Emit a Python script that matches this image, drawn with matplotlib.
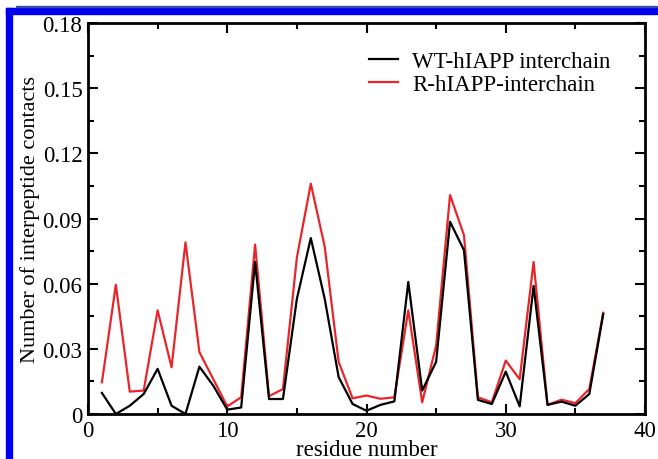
import matplotlib
matplotlib.use('Agg')
import matplotlib.pyplot as plt
from matplotlib.patches import Rectangle
from matplotlib.ticker import MultipleLocator, FuncFormatter

residues = list(range(1, 38))
wt_interchain = [0.0097, 0.0, 0.0038, 0.0092, 0.0208, 0.0038, 0.0, 0.0218, 0.013, 0.002,
                 0.003, 0.070, 0.0069, 0.0069, 0.053, 0.081, 0.053, 0.017, 0.0046, 0.0015,
                 0.0042, 0.0058, 0.0608, 0.0108, 0.024, 0.0885, 0.0754, 0.0065, 0.0046, 0.0195,
                 0.0035, 0.059, 0.0042, 0.0057, 0.0038, 0.0092, 0.046]
r_interchain = [0.0146, 0.0595, 0.0103, 0.0108, 0.0477, 0.0215, 0.079, 0.0285, 0.016, 0.0035,
                0.0077, 0.078, 0.0082, 0.0115, 0.072, 0.106, 0.077, 0.024, 0.0072, 0.0085,
                0.007, 0.0077, 0.0477, 0.0054, 0.0315, 0.1008, 0.0823, 0.0077, 0.0054, 0.0246,
                0.016, 0.070, 0.0042, 0.0066, 0.005, 0.0115, 0.0466]

plt.rcParams['font.family'] = ['Liberation Serif', 'DejaVu Serif']

fig = plt.figure(figsize=(6.58, 4.6), dpi=100)
ax = fig.add_axes([88 / 658, 1 - 415 / 460, (645 - 88) / 658, (415 - 24) / 460])

# blue frame from the source page
fig.patches.append(Rectangle((6 / 658, 0), 6 / 658, 1 - 9 / 460, transform=fig.transFigure,
                             color='#0000ee', zorder=0))
fig.patches.append(Rectangle((6 / 658, 1 - 15 / 460), 651 / 658, 6 / 460, transform=fig.transFigure,
                             color='#0000ee', zorder=0))
fig.patches.append(Rectangle((16 / 658, 1 - 8 / 460), 641 / 658, 1.5 / 460, transform=fig.transFigure,
                             color='#3050a0', zorder=0))

ax.plot(residues, wt_interchain, color='black', lw=1.6, label='WT-hIAPP interchain', zorder=3)
ax.plot(residues, r_interchain, color='#e8262a', lw=1.6, label='R-hIAPP-interchain', zorder=2)

ax.set_xlim(0, 40)
ax.set_ylim(0, 0.18)
ax.xaxis.set_major_locator(MultipleLocator(10))
ax.xaxis.set_minor_locator(MultipleLocator(5))
ax.yaxis.set_major_locator(MultipleLocator(0.03))
ax.yaxis.set_minor_locator(MultipleLocator(0.015))
ax.yaxis.set_major_formatter(FuncFormatter(lambda v, p: '0' if abs(v) < 1e-9 else f'{v:.2f}'))
ax.tick_params(which='both', direction='in', top=True, right=True, width=1.5, labelsize=16.5)
ax.tick_params(which='major', length=7)
ax.tick_params(which='minor', length=4)
ax.tick_params(axis='y', which='major', pad=4)
ax.tick_params(axis='x', which='major', pad=4)
for s in ax.spines.values():
    s.set_linewidth(2)

ax.set_xlabel('residue number', fontsize=16.5, labelpad=-1)
ax.set_ylabel('Number of interpeptide contacts', fontsize=16, labelpad=2)

ax.legend(loc='upper right', frameon=False, fontsize=16.5, handlelength=1.3, handletextpad=0.6,
          labelspacing=0.05, bbox_to_anchor=(0.975, 0.98))

fig.savefig('out.png', dpi=100)
